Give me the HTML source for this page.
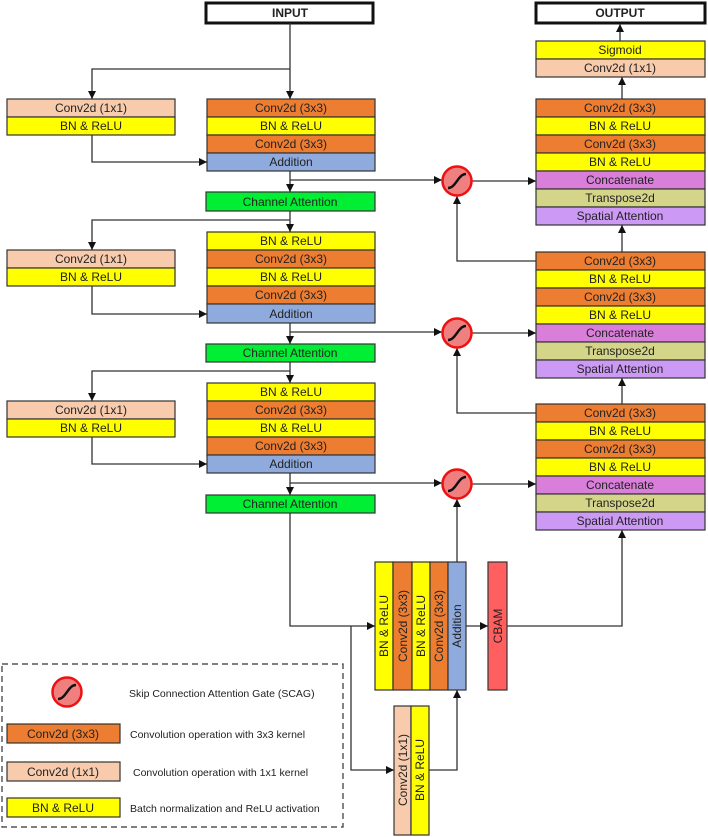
<!DOCTYPE html>
<html><head><meta charset="utf-8"><style>
html,body{margin:0;padding:0;background:#fff;}
svg{display:block;}
text{font-family:"Liberation Sans",sans-serif;font-size:12px;fill:#222;}
.b{stroke:#333;stroke-width:1.2;}
.l{stroke:#333;stroke-width:1.3;fill:none;}
.lg{font-size:10.5px;}
</style></head><body>
<svg width="708" height="837" viewBox="0 0 708 837" xmlns="http://www.w3.org/2000/svg">
<defs>
<marker id="a" viewBox="0 0 10 10" refX="10" refY="5" markerWidth="8" markerHeight="8" markerUnits="userSpaceOnUse" orient="auto"><path d="M0,0L10,5L0,10z" fill="#111"/></marker>
<g id="scag"><circle r="14.5" fill="#f08080" stroke="#ee1111" stroke-width="2.5"/><path d="M-9,7 C-1,7 1,-7 9,-7" fill="none" stroke="#111" stroke-width="2.4"/></g>
</defs>

<rect x="206" y="3" width="167" height="20" fill="#fff" stroke="#111" stroke-width="3"/>
<text x="290" y="17" text-anchor="middle" font-weight="bold">INPUT</text>
<rect x="536" y="3" width="169" height="20" fill="#fff" stroke="#111" stroke-width="3"/>
<text x="620" y="17" text-anchor="middle" font-weight="bold">OUTPUT</text>

<g class="b">
<rect x="7" y="99" width="168" height="18" fill="#f8cbad"/>
<rect x="7" y="117" width="168" height="18" fill="#ffff00"/>
<rect x="207" y="99" width="168" height="18" fill="#ed7d31"/>
<rect x="207" y="117" width="168" height="18" fill="#ffff00"/>
<rect x="207" y="135" width="168" height="18" fill="#ed7d31"/>
<rect x="207" y="153" width="168" height="18" fill="#8faadc"/>
<rect x="206" y="192" width="169" height="19" fill="#00ee33"/>
</g>
<g text-anchor="middle">
<text x="91" y="112">Conv2d (1x1)</text><text x="91" y="130">BN &amp; ReLU</text>
<text x="291" y="112">Conv2d (3x3)</text><text x="291" y="130">BN &amp; ReLU</text>
<text x="291" y="148">Conv2d (3x3)</text><text x="291" y="166">Addition</text>
<text x="290" y="206">Channel Attention</text>
</g>

<g class="b">
<rect x="7" y="250" width="168" height="18" fill="#f8cbad"/>
<rect x="7" y="268" width="168" height="18" fill="#ffff00"/>
<rect x="207" y="232" width="168" height="18" fill="#ffff00"/>
<rect x="207" y="250" width="168" height="18" fill="#ed7d31"/>
<rect x="207" y="268" width="168" height="18" fill="#ffff00"/>
<rect x="207" y="286" width="168" height="18" fill="#ed7d31"/>
<rect x="207" y="304" width="168" height="19" fill="#8faadc"/>
<rect x="206" y="344" width="169" height="18" fill="#00ee33"/>
</g>
<g text-anchor="middle">
<text x="91" y="263">Conv2d (1x1)</text><text x="91" y="281">BN &amp; ReLU</text>
<text x="291" y="245">BN &amp; ReLU</text><text x="291" y="263">Conv2d (3x3)</text>
<text x="291" y="281">BN &amp; ReLU</text><text x="291" y="299">Conv2d (3x3)</text>
<text x="291" y="318">Addition</text>
<text x="290" y="357">Channel Attention</text>
</g>

<g class="b">
<rect x="7" y="401" width="168" height="18" fill="#f8cbad"/>
<rect x="7" y="419" width="168" height="18" fill="#ffff00"/>
<rect x="207" y="383" width="168" height="18" fill="#ffff00"/>
<rect x="207" y="401" width="168" height="18" fill="#ed7d31"/>
<rect x="207" y="419" width="168" height="18" fill="#ffff00"/>
<rect x="207" y="437" width="168" height="18" fill="#ed7d31"/>
<rect x="207" y="455" width="168" height="18" fill="#8faadc"/>
<rect x="206" y="495" width="169" height="18" fill="#00ee33"/>
</g>
<g text-anchor="middle">
<text x="91" y="414">Conv2d (1x1)</text><text x="91" y="432">BN &amp; ReLU</text>
<text x="291" y="396">BN &amp; ReLU</text><text x="291" y="414">Conv2d (3x3)</text>
<text x="291" y="432">BN &amp; ReLU</text><text x="291" y="450">Conv2d (3x3)</text>
<text x="291" y="468">Addition</text>
<text x="290" y="508">Channel Attention</text>
</g>

<g class="b">
<rect x="536" y="41" width="169" height="18" fill="#ffff00"/>
<rect x="536" y="59" width="169" height="18" fill="#f8cbad"/>
</g>
<g text-anchor="middle"><text x="620" y="54">Sigmoid</text><text x="620" y="72">Conv2d (1x1)</text></g>

<g class="b">
<rect x="536" y="99" width="169" height="18" fill="#ed7d31"/>
<rect x="536" y="117" width="169" height="18" fill="#ffff00"/>
<rect x="536" y="135" width="169" height="18" fill="#ed7d31"/>
<rect x="536" y="153" width="169" height="18" fill="#ffff00"/>
<rect x="536" y="171" width="169" height="18" fill="#d97fd9"/>
<rect x="536" y="189" width="169" height="18" fill="#d5d58a"/>
<rect x="536" y="207" width="169" height="18" fill="#cc99f5"/>

<rect x="536" y="252" width="169" height="18" fill="#ed7d31"/>
<rect x="536" y="270" width="169" height="18" fill="#ffff00"/>
<rect x="536" y="288" width="169" height="18" fill="#ed7d31"/>
<rect x="536" y="306" width="169" height="18" fill="#ffff00"/>
<rect x="536" y="324" width="169" height="18" fill="#d97fd9"/>
<rect x="536" y="342" width="169" height="18" fill="#d5d58a"/>
<rect x="536" y="360" width="169" height="18" fill="#cc99f5"/>

<rect x="536" y="404" width="169" height="18" fill="#ed7d31"/>
<rect x="536" y="422" width="169" height="18" fill="#ffff00"/>
<rect x="536" y="440" width="169" height="18" fill="#ed7d31"/>
<rect x="536" y="458" width="169" height="18" fill="#ffff00"/>
<rect x="536" y="476" width="169" height="18" fill="#d97fd9"/>
<rect x="536" y="494" width="169" height="18" fill="#d5d58a"/>
<rect x="536" y="512" width="169" height="18" fill="#cc99f5"/>
</g>
<g text-anchor="middle">
<text x="620" y="112">Conv2d (3x3)</text><text x="620" y="130">BN &amp; ReLU</text>
<text x="620" y="148">Conv2d (3x3)</text><text x="620" y="166">BN &amp; ReLU</text>
<text x="620" y="184">Concatenate</text><text x="620" y="202">Transpose2d</text>
<text x="620" y="220">Spatial Attention</text>
<text x="620" y="265">Conv2d (3x3)</text><text x="620" y="283">BN &amp; ReLU</text>
<text x="620" y="301">Conv2d (3x3)</text><text x="620" y="319">BN &amp; ReLU</text>
<text x="620" y="337">Concatenate</text><text x="620" y="355">Transpose2d</text>
<text x="620" y="373">Spatial Attention</text>
<text x="620" y="417">Conv2d (3x3)</text><text x="620" y="435">BN &amp; ReLU</text>
<text x="620" y="453">Conv2d (3x3)</text><text x="620" y="471">BN &amp; ReLU</text>
<text x="620" y="489">Concatenate</text><text x="620" y="507">Transpose2d</text>
<text x="620" y="525">Spatial Attention</text>
</g>

<g class="b">
<rect x="375" y="562" width="18" height="128" fill="#ffff00"/>
<rect x="393" y="562" width="19" height="128" fill="#ed7d31"/>
<rect x="412" y="562" width="18" height="128" fill="#ffff00"/>
<rect x="430" y="562" width="18" height="128" fill="#ed7d31"/>
<rect x="448" y="562" width="18" height="128" fill="#8faadc"/>
<rect x="488" y="562" width="19" height="128" fill="#ff5f5f"/>
<rect x="394" y="706" width="17" height="129" fill="#f8cbad"/>
<rect x="411" y="706" width="18" height="129" fill="#ffff00"/>
</g>
<g text-anchor="middle">
<text transform="translate(388,626) rotate(-90)">BN &amp; ReLU</text>
<text transform="translate(407,626) rotate(-90)">Conv2d (3x3)</text>
<text transform="translate(425,626) rotate(-90)">BN &amp; ReLU</text>
<text transform="translate(443,626) rotate(-90)">Conv2d (3x3)</text>
<text transform="translate(461,626) rotate(-90)">Addition</text>
<text transform="translate(502,626) rotate(-90)">CBAM</text>
<text transform="translate(407,770) rotate(-90)">Conv2d (1x1)</text>
<text transform="translate(424,770) rotate(-90)">BN &amp; ReLU</text>
</g>

<g class="l">
<path d="M290,23 V99" marker-end="url(#a)"/>
<path d="M290,69 H92 V99" marker-end="url(#a)"/>
<path d="M92,135 V162 H207" marker-end="url(#a)"/>
<path d="M290,171 V192" marker-end="url(#a)"/>
<path d="M290,180 H442" marker-end="url(#a)"/>
<path d="M290,211 V232" marker-end="url(#a)"/>
<path d="M290,220 H92 V250" marker-end="url(#a)"/>
<path d="M92,286 V314 H207" marker-end="url(#a)"/>
<path d="M290,323 V344" marker-end="url(#a)"/>
<path d="M290,332 H442" marker-end="url(#a)"/>
<path d="M290,362 V383" marker-end="url(#a)"/>
<path d="M290,371 H92 V401" marker-end="url(#a)"/>
<path d="M92,437 V464 H207" marker-end="url(#a)"/>
<path d="M290,473 V495" marker-end="url(#a)"/>
<path d="M290,483 H442" marker-end="url(#a)"/>
<path d="M290,513 V626 H375" marker-end="url(#a)"/>
<path d="M351,626 V770 H394" marker-end="url(#a)"/>
<path d="M429,770 H457 V690" marker-end="url(#a)"/>
<path d="M466,626 H488" marker-end="url(#a)"/>
<path d="M457,562 V499" marker-end="url(#a)"/>
<path d="M507,626 H622 V530" marker-end="url(#a)"/>
<path d="M536,413 H457 V348" marker-end="url(#a)"/>
<path d="M536,261 H457 V196" marker-end="url(#a)"/>
<path d="M472,181 H536" marker-end="url(#a)"/>
<path d="M472,333 H536" marker-end="url(#a)"/>
<path d="M472,484 H536" marker-end="url(#a)"/>
<path d="M622,404 V378" marker-end="url(#a)"/>
<path d="M622,252 V225" marker-end="url(#a)"/>
<path d="M622,99 V77" marker-end="url(#a)"/>
<path d="M620,41 V24" marker-end="url(#a)"/>
</g>
<use href="#scag" x="457" y="181"/>
<use href="#scag" x="457" y="333"/>
<use href="#scag" x="457" y="484"/>

<rect x="2" y="664" width="341" height="163" fill="none" stroke="#333" stroke-width="1.2" stroke-dasharray="6,4"/>
<use href="#scag" x="67" y="692"/>
<text x="129" y="697" class="lg">Skip Connection Attention Gate (SCAG)</text>
<g class="b">
<rect x="7" y="724" width="113" height="19" fill="#ed7d31"/>
<rect x="7" y="762" width="113" height="19" fill="#f8cbad"/>
<rect x="7" y="798" width="113" height="19" fill="#ffff00"/>
</g>
<g text-anchor="middle">
<text x="63" y="738">Conv2d (3x3)</text>
<text x="63" y="776">Conv2d (1x1)</text>
<text x="63" y="812">BN &amp; ReLU</text>
</g>
<text x="130" y="738" class="lg">Convolution operation with 3x3 kernel</text>
<text x="133" y="776" class="lg">Convolution operation with 1x1 kernel</text>
<text x="130" y="812" class="lg">Batch normalization and ReLU activation</text>
</svg>
</body></html>
